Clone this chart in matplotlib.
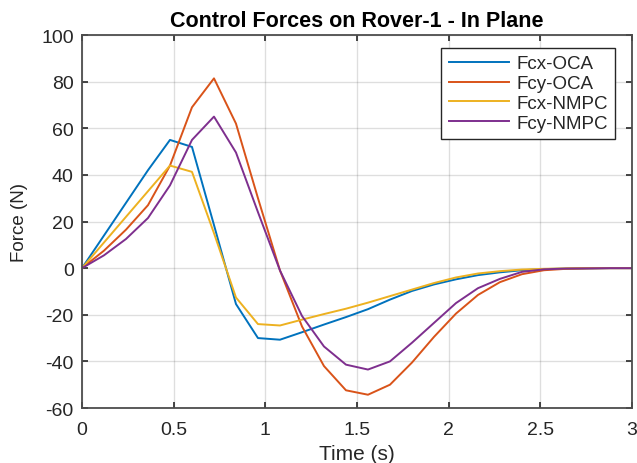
import numpy as np
import matplotlib
matplotlib.use("Agg")
import matplotlib.pyplot as plt

# Sample times (s)
time_s = [0.00, 0.12, 0.24, 0.36, 0.48, 0.60, 0.72, 0.84, 0.96, 1.08,
          1.20, 1.32, 1.44, 1.56, 1.68, 1.80, 1.92, 2.04, 2.16, 2.28,
          2.40, 2.52, 2.64, 2.76, 2.88, 3.00]

# Control forces (N)
fcx_oca = [0, 14, 28, 42, 55, 52, 18.5, -15.4, -30, -30.7,
           -27.5, -24.2, -21, -17.6, -13.5, -9.8, -7, -4.8, -3.0, -1.8,
           -0.9, -0.4, -0.2, -0.1, 0, 0]
fcy_oca = [0, 7.5, 16.5, 27, 44, 69, 81.4, 62, 30, -1,
           -25, -42, -52.4, -54.3, -50, -40.5, -29.5, -19.5, -11.5, -6,
           -2.6, -0.9, -0.3, -0.1, 0, 0]
fcx_nmpc = [0, 11, 22, 33, 44, 41.3, 15, -12.6, -24, -24.6,
            -22.1, -19.7, -17.4, -14.8, -12, -9.2, -6.4, -4, -2.3, -1.3,
            -0.6, -0.3, -0.1, 0, 0, 0]
fcy_nmpc = [0, 5.5, 12.5, 21.5, 35.5, 55, 65, 49.6, 24, -1,
            -20.5, -33.6, -41.4, -43.5, -40, -32, -23.5, -15, -8.6, -4.6,
            -1.6, -0.5, -0.2, -0.1, 0, 0]

series_names = ["Fcx-OCA", "Fcy-OCA", "Fcx-NMPC", "Fcy-NMPC"]
series_colors = ["#0072BD", "#D95319", "#EDB120", "#7E2F8E"]

plt.rcParams["font.family"] = ["Liberation Sans", "DejaVu Sans"]
plt.rcParams["axes.unicode_minus"] = False
axis_color = "#262626"

fig = plt.figure(figsize=(6.37, 4.64), dpi=100)
ax = fig.add_axes([0.1287, 0.1185, 0.8634, 0.8039])

for vals, name, col in zip([fcx_oca, fcy_oca, fcx_nmpc, fcy_nmpc],
                           series_names, series_colors):
    ax.plot(time_s, vals, color=col, lw=1.4, label=name)

ax.set_xlim(0, 3)
ax.set_ylim(-60, 100)
ax.set_xticks([0, 0.5, 1, 1.5, 2, 2.5, 3])
ax.set_xticklabels(["0", "0.5", "1", "1.5", "2", "2.5", "3"])
ax.set_yticks(np.arange(-60, 101, 20))

ax.grid(True, color=axis_color, alpha=0.15, lw=1.0)
ax.tick_params(direction="in", length=4, width=1.2, colors=axis_color,
               labelsize=14, top=True, right=True, labelcolor=axis_color)
ax.tick_params(axis="x", pad=9)
ax.tick_params(axis="y", pad=6)
for sp in ax.spines.values():
    sp.set_color("#4d4d4d")
    sp.set_linewidth(1.3)

ax.set_title("Control Forces on Rover-1 - In Plane", fontsize=15.5,
             fontweight="bold", color="black", pad=6.5)
ax.set_xlabel("Time (s)", fontsize=15, color=axis_color)
ax.set_ylabel("Force (N)", fontsize=13.5, color=axis_color)
ax.xaxis.set_label_coords(0.5, -0.097)
ax.yaxis.set_label_coords(-0.098, 0.5)

leg = ax.legend(loc="upper right", bbox_to_anchor=(0.97, 0.966),
                fontsize=13.5, frameon=True, fancybox=False,
                edgecolor=axis_color, handlelength=3.2, borderpad=0.4,
                labelspacing=0.14, handletextpad=0.4, borderaxespad=0)
leg.get_frame().set_linewidth(1.0)
leg.get_frame().set_alpha(1)
for t in leg.get_texts():
    t.set_color(axis_color)

fig.savefig("out.png", dpi=100)
